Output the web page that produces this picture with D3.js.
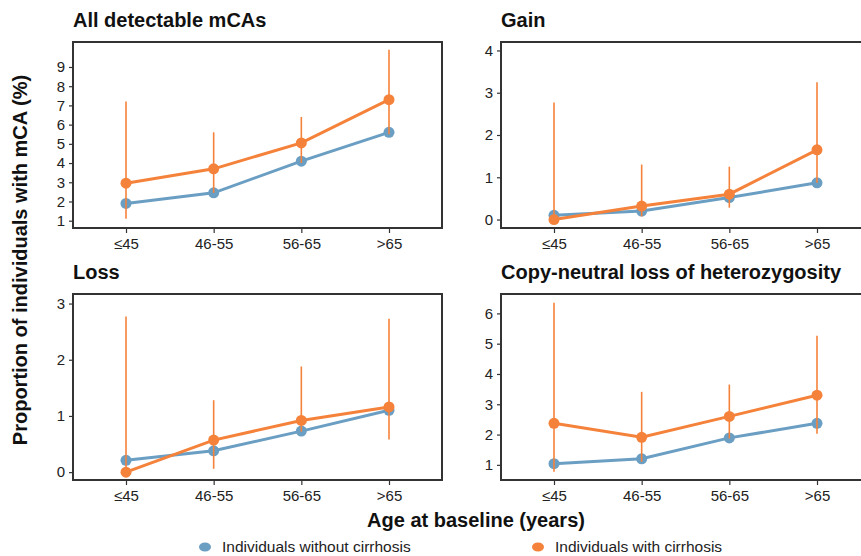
<!DOCTYPE html>
<html>
<head>
<meta charset="utf-8">
<script src="https://cdn.jsdelivr.net/npm/d3@7"></script>
<style>
  body { margin: 0; background: #fff; }
  text { font-family: Arial, "Liberation Sans", sans-serif; }
</style>
</head>
<body>
<svg id="chart" width="861" height="556"></svg>
<script>
var ageGroups = ["≤45", "46-55", "56-65", ">65"];

var allNoCirr = [1.9, 2.45, 4.1, 5.6];
var allCirr = [2.95, 3.7, 5.05, 7.3];
var allCirrLo = [1.1, 2.45, 4.0, 5.5];
var allCirrHi = [7.2, 5.6, 6.4, 9.9];

var gainNoCirr = [0.1, 0.2, 0.52, 0.87];
var gainCirr = [0.0, 0.32, 0.6, 1.65];
var gainCirrLo = [0.0, 0.07, 0.28, 0.87];
var gainCirrHi = [2.77, 1.3, 1.25, 3.25];

var lossNoCirr = [0.21, 0.38, 0.73, 1.1];
var lossCirr = [0.0, 0.57, 0.92, 1.16];
var lossCirrLo = [0.0, 0.06, 0.72, 0.58];
var lossCirrHi = [2.77, 1.28, 1.88, 2.73];

var cnNoCirr = [1.04, 1.2, 1.89, 2.37];
var cnCirr = [2.37, 1.91, 2.6, 3.3];
var cnCirrLo = [0.77, 1.1, 1.87, 2.03];
var cnCirrHi = [6.35, 3.41, 3.65, 5.26];

var legendLabels = ["Individuals without cirrhosis", "Individuals with cirrhosis"];

var blue = "#6a9ec3", orange = "#f5823a";

var panels = [
  {title: "All detectable mCAs", no: allNoCirr, yes: allCirr, lo: allCirrLo, hi: allCirrHi,
   domain: [0.62, 10.3], ticks: [1, 2, 3, 4, 5, 6, 7, 8, 9], x: 73, y: 42, w: 369, h: 186},
  {title: "Gain", no: gainNoCirr, yes: gainCirr, lo: gainCirrLo, hi: gainCirrHi,
   domain: [-0.2, 4.2], ticks: [0, 1, 2, 3, 4], x: 501, y: 42, w: 369, h: 186},
  {title: "Loss", no: lossNoCirr, yes: lossCirr, lo: lossCirrLo, hi: lossCirrHi,
   domain: [-0.14, 3.17], ticks: [0, 1, 2, 3], x: 73, y: 294, w: 369, h: 186},
  {title: "Copy-neutral loss of heterozygosity", no: cnNoCirr, yes: cnCirr, lo: cnCirrLo, hi: cnCirrHi,
   domain: [0.5, 6.64], ticks: [1, 2, 3, 4, 5, 6], x: 501, y: 294, w: 369, h: 186}
];

var svg = d3.select("#chart");

panels.forEach(function(p) {
  var g = svg.append("g").attr("transform", "translate(" + p.x + "," + p.y + ")");

  var x = d3.scalePoint().domain(ageGroups).range([53, 316]);
  var y = d3.scaleLinear().domain(p.domain).range([p.h, 0]);

  g.append("text")
    .attr("x", 0).attr("y", -15)
    .attr("font-size", 20).attr("font-weight", "bold").attr("fill", "#111")
    .text(p.title);

  var yAxis = g.append("g").call(d3.axisLeft(y).tickValues(p.ticks).tickSize(4).tickPadding(4).tickFormat(d3.format("d")));
  yAxis.select(".domain").remove();
  var xAxis = g.append("g").attr("transform", "translate(0," + p.h + ")")
    .call(d3.axisBottom(x).tickSize(5).tickPadding(5));
  xAxis.select(".domain").remove();
  g.selectAll(".tick line").attr("stroke", "#333").attr("stroke-width", 1.2);
  g.selectAll(".tick text").attr("font-size", 15).attr("fill", "#222")
    .attr("font-family", "Arial, 'Liberation Sans', sans-serif");

  g.append("rect")
    .attr("width", p.w).attr("height", p.h)
    .attr("fill", "none").attr("stroke", "#333").attr("stroke-width", 2);

  var line = d3.line()
    .x(function(d, i) { return x(ageGroups[i]); })
    .y(function(d) { return y(d); });

  g.append("path").datum(p.no)
    .attr("d", line).attr("fill", "none").attr("stroke", blue).attr("stroke-width", 3);
  g.selectAll(".dotNo").data(p.no).enter().append("circle")
    .attr("cx", function(d, i) { return x(ageGroups[i]); })
    .attr("cy", function(d) { return y(d); })
    .attr("r", 5.5).attr("fill", blue);

  g.append("path").datum(p.yes)
    .attr("d", line).attr("fill", "none").attr("stroke", orange).attr("stroke-width", 3);
  g.selectAll(".dotYes").data(p.yes).enter().append("circle")
    .attr("cx", function(d, i) { return x(ageGroups[i]); })
    .attr("cy", function(d) { return y(d); })
    .attr("r", 5.5).attr("fill", orange);

  g.selectAll(".err").data(p.lo).enter().append("line")
    .attr("x1", function(d, i) { return x(ageGroups[i]); })
    .attr("x2", function(d, i) { return x(ageGroups[i]); })
    .attr("y1", function(d) { return y(d); })
    .attr("y2", function(d, i) { return y(p.hi[i]); })
    .attr("stroke", orange).attr("stroke-width", 1.6);
});

svg.append("text")
  .attr("x", 476).attr("y", 527).attr("text-anchor", "middle")
  .attr("font-size", 20).attr("font-weight", "bold").attr("fill", "#111")
  .text("Age at baseline (years)");

svg.append("text")
  .attr("transform", "translate(27,260) rotate(-90)").attr("text-anchor", "middle")
  .attr("font-size", 20).attr("font-weight", "bold").attr("fill", "#111")
  .text("Proportion of individuals with mCA (%)");

var legendX = [205, 538];
legendLabels.forEach(function(label, i) {
  var c = i === 0 ? blue : orange;
  svg.append("ellipse").attr("cx", legendX[i]).attr("cy", 547).attr("rx", 6).attr("ry", 4.5).attr("fill", c);
  svg.append("text").attr("x", legendX[i] + 17).attr("y", 552)
    .attr("font-size", 15.5).attr("fill", "#222").text(label);
});
</script>
</body>
</html>
